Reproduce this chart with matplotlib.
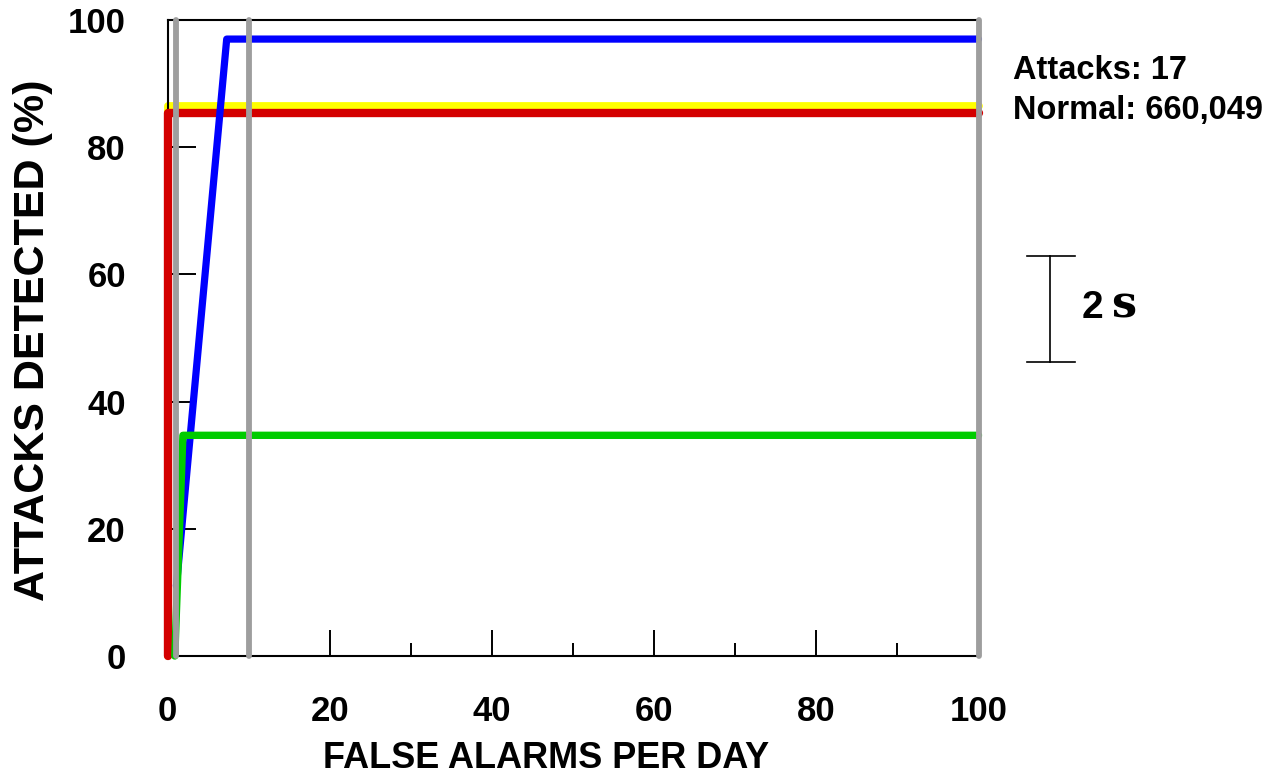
import matplotlib
matplotlib.use("Agg")
import matplotlib.pyplot as plt
from matplotlib.lines import Line2D
from matplotlib.ticker import MultipleLocator

plt.rcParams["font.family"] = ["Liberation Sans", "DejaVu Sans"]
plt.rcParams["font.weight"] = "bold"

# curves (false alarms per day, % attacks detected)
red_x = [0.05, 0.05, 100]
red_y = [0, 85.3, 85.3]
yellow_x = [0.05, 0.05, 100]
yellow_y = [0, 86.4, 86.4]
blue_x = [1.1, 7.3, 100]
blue_y = [11, 97, 97]
green_x = [0.9, 1.9, 100]
green_y = [0, 34.7, 34.7]
ref_x = [1, 10, 100]

x_ticks = [0, 20, 40, 60, 80, 100]
y_ticks = [0, 20, 40, 60, 80, 100]
note_lines = ["Attacks: 17", "Normal: 660,049"]

W, H = 1266, 773
fig = plt.figure(figsize=(W / 100, H / 100), dpi=100)


def fx(px):
    return px / W


def fy(py):
    return 1 - py / H


ax = fig.add_axes([fx(167.5), fy(656), fx(978.5) - fx(167.5), fy(20) - fy(656)])

style = dict(solid_capstyle="round", solid_joinstyle="round", clip_on=False)
ax.plot(yellow_x, yellow_y, color="#FFFF00", lw=5.6, zorder=2, **style)
ax.plot(red_x, red_y, color="#D40000", lw=6.0, zorder=3, **style)
ax.plot(blue_x, blue_y, color="#0000FF", lw=5.2, zorder=4, **style)
ax.plot(green_x, green_y, color="#00CC00", lw=5.3, zorder=5, **style)
for x in ref_x:
    ax.plot([x, x], [0, 100], color="#9E9E9E", lw=4.2, zorder=6, **style)

ax.set_xlim(0, 100)
ax.set_ylim(0, 100)
ax.set_xticks(x_ticks)
ax.set_yticks(y_ticks)
ax.xaxis.set_minor_locator(MultipleLocator(10))
ax.tick_params(axis="x", which="major", direction="in", length=19, width=1.4, pad=28, labelsize=25)
ax.tick_params(axis="x", which="minor", direction="in", length=9.5, width=1.4)
ax.tick_params(axis="y", which="major", direction="in", length=20, width=1.4, pad=30, labelsize=25)
for lbl in ax.get_xticklabels() + ax.get_yticklabels():
    lbl.set_fontweight("bold")
for sp in ax.spines.values():
    sp.set_linewidth(1.5)
    sp.set_color("black")

fig.text(fx(33), fy(340), "ATTACKS DETECTED (%)", rotation=90, fontsize=31,
         fontweight="bold", ha="center", va="center")
fig.text(fx(546), fy(758), "FALSE ALARMS PER DAY", fontsize=26,
         fontweight="bold", ha="center", va="center")

fig.text(fx(1013), fy(79), note_lines[0], fontsize=23.5, fontweight="bold", ha="left", va="baseline")
fig.text(fx(1013), fy(119), note_lines[1], fontsize=23.5, fontweight="bold", ha="left", va="baseline")

# 2s scale bracket
for xs, ys in [([1050, 1050], [256, 362]), ([1027, 1075], [256, 256]), ([1027, 1075], [362, 362])]:
    fig.add_artist(Line2D([fx(v) for v in xs], [fy(v) for v in ys], color="black", lw=1.2))
fig.text(fx(1082), fy(318), "2", fontsize=28, fontweight="bold", ha="left", va="baseline")
fig.text(fx(1111), fy(318), "s", fontsize=32, fontweight="bold", family="DejaVu Serif",
         ha="left", va="baseline")

fig.savefig("out.png", dpi=100)
